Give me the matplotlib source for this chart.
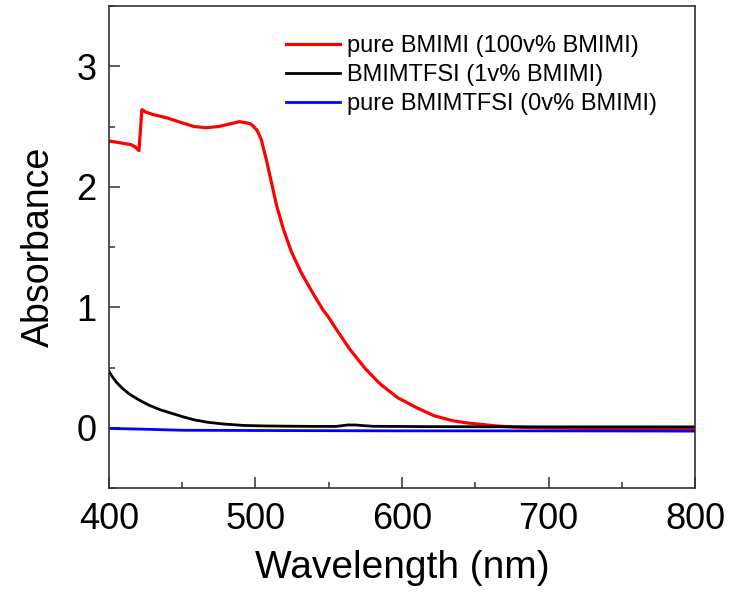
import numpy as np
import matplotlib
matplotlib.use('Agg')
import matplotlib.pyplot as plt
from matplotlib.ticker import MultipleLocator

plt.rcParams['font.family'] = ['Liberation Sans', 'DejaVu Sans']

# =============== DATA ===============
# pure BMIMI (100v% BMIMI)
wl_red = np.array([400, 405, 410, 415, 418, 420.5, 422.5, 425, 430, 440, 450, 458, 466,
                   475, 482, 489, 494, 497, 501, 504, 507.5, 511, 514.5, 519, 524.5,
                   531.5, 539.5, 546, 550, 555, 564.5, 575, 585, 597, 610, 622, 635,
                   645, 653, 665, 680, 700, 730, 760, 800])
abs_red = np.array([2.38, 2.37, 2.36, 2.35, 2.33, 2.30, 2.64, 2.62, 2.60, 2.57, 2.53,
                    2.50, 2.49, 2.50, 2.52, 2.54, 2.53, 2.52, 2.47, 2.39, 2.22, 2.03,
                    1.84, 1.65, 1.46, 1.28, 1.11, 0.98, 0.915, 0.82, 0.65, 0.49, 0.365,
                    0.25, 0.167, 0.10, 0.058, 0.04, 0.03, 0.015, 0.005, 0.0, -0.005,
                    -0.01, -0.01])

# BMIMTFSI (1v% BMIMI)
wl_black = np.array([400, 402, 405, 409, 414, 420, 427, 435, 443, 451, 458, 467, 478,
                     492, 505, 520, 540, 555, 559, 563, 568, 574, 580, 620, 700, 800])
abs_black = np.array([0.47, 0.43, 0.38, 0.33, 0.28, 0.235, 0.19, 0.15, 0.12, 0.09,
                      0.067, 0.047, 0.032, 0.02, 0.016, 0.014, 0.012, 0.012, 0.018,
                      0.024, 0.024, 0.018, 0.013, 0.01, 0.008, 0.008])

# pure BMIMTFSI (0v% BMIMI)
wl_blue = np.array([400, 420, 450, 500, 600, 700, 800])
abs_blue = np.array([-0.005, -0.01, -0.02, -0.022, -0.025, -0.025, -0.027])

labels = ['pure BMIMI (100v% BMIMI)', 'BMIMTFSI (1v% BMIMI)',
          'pure BMIMTFSI (0v% BMIMI)']

# =============== PLOT ===============
fig = plt.figure(figsize=(7.31, 5.96), dpi=100)
ax = fig.add_axes([0.149, 0.181, 0.802, 0.809])

ax.plot(wl_red, abs_red, color='#ff0000', linewidth=2.3, label=labels[0])
ax.plot(wl_black, abs_black, color='black', linewidth=2.0, label=labels[1])
ax.plot(wl_blue, abs_blue, color='#0000ff', linewidth=2.0, label=labels[2])

ax.set_xlim(400, 800)
ax.set_ylim(-0.5, 3.5)
ax.xaxis.set_major_locator(MultipleLocator(100))
ax.xaxis.set_minor_locator(MultipleLocator(50))
ax.yaxis.set_major_locator(MultipleLocator(1))
ax.yaxis.set_minor_locator(MultipleLocator(0.5))
ax.tick_params(which='both', direction='in', top=False, right=False,
               width=1.1, color='#333333')
ax.tick_params(which='major', length=8, labelsize=26)
ax.tick_params(axis='x', which='major', pad=10)
ax.tick_params(axis='y', which='major', pad=9)
ax.tick_params(which='minor', length=4)
for sp in ax.spines.values():
    sp.set_linewidth(1.2)
    sp.set_color('#333333')

ax.set_xlabel('Wavelength (nm)', fontsize=28, labelpad=9)
ax.set_ylabel('Absorbance', fontsize=27, labelpad=14)

ax.legend(loc='upper left', bbox_to_anchor=(0.302, 0.94), frameon=False,
          fontsize=17, handlelength=2.3, handletextpad=0.3, labelspacing=0.3,
          borderpad=0, borderaxespad=0)

fig.savefig('out.png', dpi=100)
